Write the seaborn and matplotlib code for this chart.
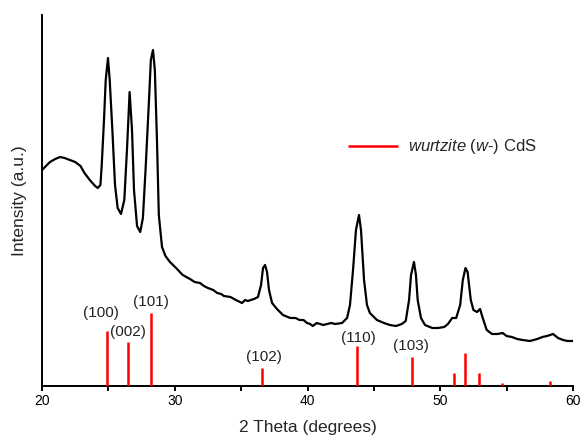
import numpy as np
import pandas as pd
import matplotlib
matplotlib.use("Agg")
import matplotlib.pyplot as plt
import seaborn as sns
from matplotlib.ticker import MultipleLocator

# ---- data ----
two_theta = [20.0, 20.3, 20.6, 21.0, 21.36, 21.7, 22.1, 22.5, 22.9, 23.2, 23.6, 24.0, 24.2,
             24.4, 24.5, 24.67, 24.8, 24.97, 25.1, 25.3, 25.5, 25.7, 25.95, 26.2, 26.4, 26.6,
             26.78, 26.93, 27.16, 27.4, 27.6, 27.8, 28.06, 28.2, 28.36, 28.5, 28.66, 28.8,
             29.04, 29.3, 29.64, 30.1, 30.6, 31.15, 31.5, 31.9, 32.2, 32.5, 32.9, 33.2, 33.5,
             33.7, 34.2, 34.6, 35.07, 35.3, 35.5, 35.97, 36.27, 36.5, 36.65, 36.8, 36.95, 37.1,
             37.33, 37.7, 38.15, 38.7, 39.1, 39.4, 39.7, 39.96, 40.2, 40.4, 40.7, 40.94, 41.2,
             41.47, 41.8, 42.07, 42.6, 42.98, 43.2, 43.43, 43.65, 43.88, 44.03,
             44.26, 44.48, 44.7, 45.23, 45.76, 46.2, 46.67, 47.1, 47.4, 47.65, 47.8, 48.02,
             48.17, 48.3, 48.55, 48.85, 49.4, 49.83, 50.3, 50.58, 50.9, 51.2, 51.5, 51.7, 51.9,
             52.06, 52.3, 52.5, 52.77, 53.0, 53.2, 53.5, 53.9, 54.3, 54.7, 55.0, 55.4, 55.8,
             56.2, 56.76, 57.3, 57.7, 58.04, 58.5, 58.87, 59.25, 59.6, 60.0]
intensity = [216, 220, 224, 227, 229, 228, 226, 224, 220, 213, 206, 200, 198,
             201, 221, 266, 306, 328, 306, 256, 201, 178, 172, 186, 236, 294,
             256, 196, 160, 154, 168, 216, 286, 326, 336, 316, 246, 171,
             139, 130, 124, 118, 111, 107, 104, 103, 100, 98, 96, 93, 92,
             90, 89, 86, 83, 86, 85, 87, 89, 101, 118, 121, 114, 96,
             83, 77, 71, 68, 68, 66, 66, 63, 62, 60, 63, 62, 61,
             62, 63, 62, 63, 68, 81, 116, 156, 171, 156,
             106, 81, 73, 66, 63, 61, 60, 62, 65, 86, 111, 124,
             111, 86, 68, 61, 58, 58, 59, 62, 68, 68, 81, 106, 118,
             114, 86, 76, 74, 77, 68, 56, 52, 52, 53, 50, 49, 47,
             46, 45, 47, 49, 50, 52, 48, 46, 45, 45]

ref_pos = [24.9, 26.5, 28.2, 36.6, 43.7, 47.9, 51.0, 51.9, 52.9, 54.65, 58.3]
ref_height = [55, 44, 73, 18, 40, 29, 13, 33, 13, 3, 5]

hkl_labels = ["(100)", "(002)", "(101)", "(102)", "(110)", "(103)"]
hkl_x = [24.44, 26.48, 28.2, 36.72, 43.8, 47.8]
hkl_y = [73, 54, 84, 29, 48, 40]

x_ticks = [20, 30, 40, 50, 60]
legend_label = r"$\mathit{wurtzite}$ ($\mathit{w}$-) CdS"

# ---- style ----
sns.set_style("ticks")
plt.rcParams["font.family"] = ["Liberation Sans", "DejaVu Sans"]
plt.rcParams["mathtext.fontset"] = "custom"
plt.rcParams["mathtext.it"] = "Liberation Sans:italic"
plt.rcParams["mathtext.rm"] = "Liberation Sans"

fig = plt.figure(figsize=(5.81, 4.37), dpi=100)
ax = fig.add_axes([42 / 581, 51 / 437, 531 / 581, 371 / 437])

df = pd.DataFrame({"two_theta": two_theta, "intensity": intensity})
sns.lineplot(data=df, x="two_theta", y="intensity", ax=ax, color="black",
             linewidth=1.6, sort=False, estimator=None)

ax.vlines(ref_pos, 0, ref_height, colors="#ff0000", linewidth=1.8,
          label=legend_label, zorder=3)

for lab, x, y in zip(hkl_labels, hkl_x, hkl_y):
    ax.text(x, y, lab, ha="center", va="center", fontsize=11, color="#222222")

ax.set_xlim(20, 60)
ax.set_ylim(0, 371)
ax.set_xticks(x_ticks)
ax.set_xticklabels([str(t) for t in x_ticks])
ax.xaxis.set_minor_locator(MultipleLocator(5))
ax.set_yticks([])
ax.tick_params(axis="x", which="both", direction="out", length=3.6, width=1.4,
               labelsize=10, colors="black", pad=2)
ax.set_xlabel("2 Theta (degrees)", fontsize=12.5, labelpad=9)
ax.set_ylabel("Intensity (a.u.)", fontsize=12.5, labelpad=11)

for s in ["top", "right"]:
    ax.spines[s].set_visible(False)
for s in ["left", "bottom"]:
    ax.spines[s].set_linewidth(1.4)
    ax.spines[s].set_color("black")

ax.legend(loc="center left", bbox_to_anchor=(348 / 581, 1 - 147 / 437),
          bbox_transform=fig.transFigure, frameon=False, fontsize=12,
          handlelength=3.0, handletextpad=0.6, borderpad=0, borderaxespad=0)

fig.savefig("out.png", dpi=100)
